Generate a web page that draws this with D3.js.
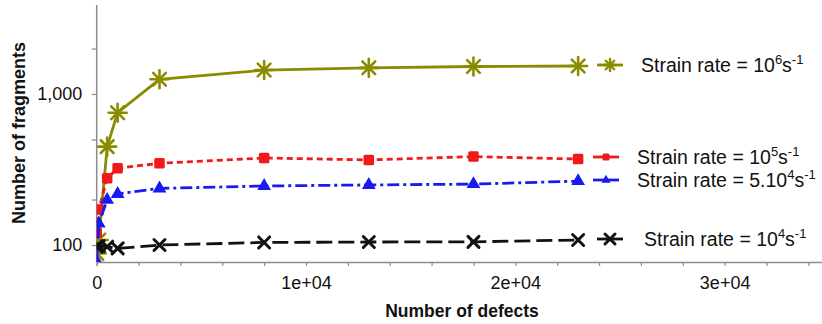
<!DOCTYPE html>
<html><head><meta charset="utf-8">
<script src="https://cdn.jsdelivr.net/npm/d3@7"></script>
<style>
body{margin:0;background:#fff;}
text{font-family:"Liberation Sans",Arial,sans-serif;}
</style></head>
<body><svg id="c" width="822" height="324"></svg>
<script>
const defects = [0, 100, 500, 1000, 3000, 8000, 13000, 18000, 23000];
const rate1e6 = [88, 108, 448, 752, 1251, 1440, 1490, 1520, 1532];
const rate1e5 = [120, 172, 277, 322, 348, 377, 366, 385, 371];
const rate5e4 = [78, 139, 199, 218, 237, 246, 250, 253, 265];
const rate1e4 = [98, 98.5, 97.5, 95, 100, 104, 104.7, 105, 108];
const legendBases = ["10", "10", "5.10", "10"];
const legendExps = ["6", "5", "4", "4"];
const xTickValues = [0, 10000, 20000, 30000];
const xTickLabels = ["0", "1e+04", "2e+04", "3e+04"];
const yTickValues = [100, 1000];
const yTickLabels = ["100", "1,000"];
const yMinorTicks = [200, 500, 2000];

const svg = d3.select("#c");
const x = d3.scaleLinear().domain([0, 35000]).range([96.7, 829.3]);
const y = d3.scaleLog().domain([77.2, 3883]).range([262, 5]);

svg.append("defs").append("clipPath").attr("id","clip")
  .append("rect").attr("x",96.7).attr("y",0).attr("width",730).attr("height",262);

const axCol = "#8c8c8c";
const gx = svg.append("g").attr("transform","translate(0,262)")
  .call(d3.axisBottom(x).tickValues(d3.range(0, 35000, 2000)).tickSize(4).tickFormat(""));
gx.select(".domain").attr("stroke",axCol).attr("stroke-width",1.5);
gx.selectAll(".tick line").attr("stroke",axCol).attr("stroke-width",1.2);
const xl = svg.append("g").attr("transform","translate(0,262)")
  .call(d3.axisBottom(x).tickValues(xTickValues).tickSize(0).tickPadding(14.5)
    .tickFormat((d,i)=>xTickLabels[i]));
xl.select(".domain").remove();
xl.selectAll("text").attr("font-size",18).attr("fill","#111").attr("font-family","Liberation Sans, Arial, sans-serif");

const gy = svg.append("g").attr("transform","translate(96.7,0)")
  .call(d3.axisLeft(y).tickValues(yTickValues.concat(yMinorTicks)).tickSize(5).tickFormat(""));
gy.select(".domain").attr("stroke",axCol).attr("stroke-width",1.5).attr("d","M0,5V262");
gy.selectAll(".tick line").attr("stroke",axCol).attr("stroke-width",1.2);
const yl = svg.append("g").attr("transform","translate(96.7,0)")
  .call(d3.axisLeft(y).tickValues(yTickValues).tickSize(0).tickPadding(14.5)
    .tickFormat((d,i)=>yTickLabels[i]));
yl.select(".domain").remove();
yl.selectAll("text").attr("font-size",18).attr("fill","#111").attr("font-family","Liberation Sans, Arial, sans-serif");

svg.append("text").attr("x",462).attr("y",317).attr("text-anchor","middle")
  .attr("font-size",17.5).attr("font-weight","bold").attr("fill","#111").text("Number of defects");
svg.append("text").attr("transform","translate(25,133) rotate(-90)").attr("text-anchor","middle")
  .attr("font-size",18).attr("font-weight","bold").attr("fill","#111").text("Number of fragments");

function asterisk(g, r, sw, col){
  [0,45,90,135].forEach(a=>{
    const t=a*Math.PI/180;
    g.append("line").attr("x1",-r*Math.cos(t)).attr("y1",-r*Math.sin(t))
      .attr("x2",r*Math.cos(t)).attr("y2",r*Math.sin(t))
      .attr("stroke",col).attr("stroke-width",sw).attr("stroke-linecap","round");
  });
}
function square(g, s, col){
  g.append("rect").attr("x",-s/2).attr("y",-s/2).attr("width",s).attr("height",s).attr("rx",1.5).attr("fill",col);
}
function tri(g, s, col){
  g.append("path").attr("d",d3.symbol(d3.symbolTriangle, s*s*0.45)()).attr("fill",col);
}
function cross(g, r, sw, col){
  g.append("path").attr("d",`M${-r},${-r}L${r},${r}M${-r},${r}L${r},${-r}`)
    .attr("stroke",col).attr("stroke-width",sw).attr("stroke-linecap","round");
}

const series = [
  {vals: rate1e6, col:"#8b8b00", dash:null, mk:(g,big)=>asterisk(g,big?9:6,big?2.6:2.4,"#8b8b00"), ly:65, lx:597, tx:641},
  {vals: rate1e5, col:"#f01a1a", dash:"6,4", mk:(g,big)=>square(g,big?10.5:7,"#f01a1a"), ly:157, lx:593, tx:637},
  {vals: rate5e4, col:"#1a1af0", dash:"12,4,3,4", mk:(g,big)=>tri(g,big?13.5:9,"#1a1af0"), ly:180, lx:593, tx:637},
  {vals: rate1e4, col:"#111", dash:"16,6", mk:(g,big)=>cross(g,big?5.5:5,3,"#111"), ly:239, lx:597, tx:644}
];

const line = d3.line().x((d,i)=>x(defects[i])).y(d=>y(d));
const plot = svg.append("g").attr("clip-path","url(#clip)");
// olive drawn first (underneath), black last
series.forEach(s=>{
  plot.append("path").datum(s.vals).attr("d",line).attr("fill","none")
    .attr("stroke",s.col).attr("stroke-width",2.8).attr("stroke-dasharray",s.dash);
  s.vals.forEach((v,i)=>{
    const g = plot.append("g").attr("transform",`translate(${x(defects[i])},${y(v)})`);
    s.mk(g,true);
  });
});

series.forEach((s,k)=>{
  const g = svg.append("g");
  g.append("line").attr("x1",s.lx).attr("x2",s.lx+26).attr("y1",s.ly).attr("y2",s.ly)
    .attr("stroke",s.col).attr("stroke-width",2.8);
  s.mk(g.append("g").attr("transform",`translate(${s.lx+13},${s.ly})`),false);
  const t = svg.append("text").attr("x",s.tx).attr("y",s.ly+7)
    .attr("font-size",19.5).attr("fill","#111");
  t.append("tspan").text("Strain rate = " + legendBases[k]);
  t.append("tspan").attr("dy",-8).attr("font-size",13).text(legendExps[k]);
  t.append("tspan").attr("dy",8).text("s");
  t.append("tspan").attr("dy",-8).attr("font-size",13).text("-1");
});
</script></body></html>
